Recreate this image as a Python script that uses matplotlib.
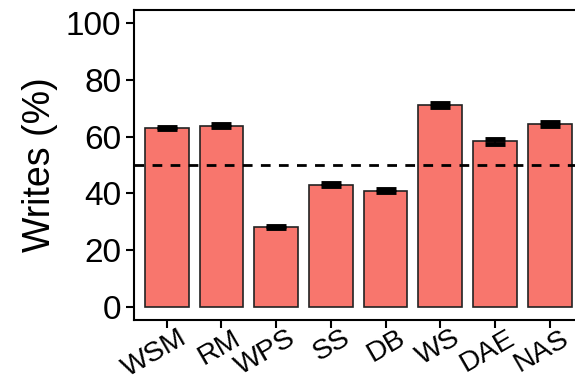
import matplotlib.pyplot as plt
import matplotlib.transforms as mtransforms
import numpy as np

plt.rcParams['font.family'] = ['Liberation Sans', 'DejaVu Sans']

labels = ['WSM', 'RM', 'WPS', 'SS', 'DB', 'WS', 'DAE', 'NAS']
writes = [63.0, 63.8, 28.2, 43.0, 41.0, 71.0, 58.4, 64.5]
errs = [0.4, 0.5, 0.4, 0.5, 0.5, 0.7, 0.9, 0.6]
yticks = [0, 20, 40, 60, 80, 100]

fig = plt.figure(figsize=(5.75, 3.82), dpi=100)
ax = fig.add_axes([0.233, 0.162, 0.78, 0.812])

x = np.arange(len(labels))
ax.bar(x, writes, width=0.8, color='#F8766D', edgecolor='#222222', linewidth=1.2, zorder=2)
ax.errorbar(x, writes, yerr=errs, fmt='none', ecolor='black', elinewidth=1.5,
            capsize=7, capthick=3.5, zorder=3)
ax.axhline(50, color='black', linestyle=(0, (3.5, 3)), linewidth=2, zorder=4)

ax.set_xlim(-0.6, 7.6)
ax.set_ylim(-4.6, 104.6)
ax.set_yticks(yticks)
ax.set_xticks(x)
ax.set_xticklabels([])
# rotated category labels, nudged right like the reference
trans = ax.get_xaxis_transform() + mtransforms.ScaledTranslation(0.11, -0.05, fig.dpi_scale_trans)
for xi, lab in zip(x, labels):
    ax.text(xi, 0, lab, transform=trans, rotation=30, ha='right', va='top',
            rotation_mode='anchor', fontsize=20.5, clip_on=False)
ax.tick_params(axis='y', labelsize=24, length=6, width=1.5, pad=3)
ax.tick_params(axis='x', length=6, width=1.5)
ax.set_ylabel('Writes (%)', fontsize=27, labelpad=6)

for s in ax.spines.values():
    s.set_linewidth(1.5)

fig.savefig('out.png', dpi=100)
